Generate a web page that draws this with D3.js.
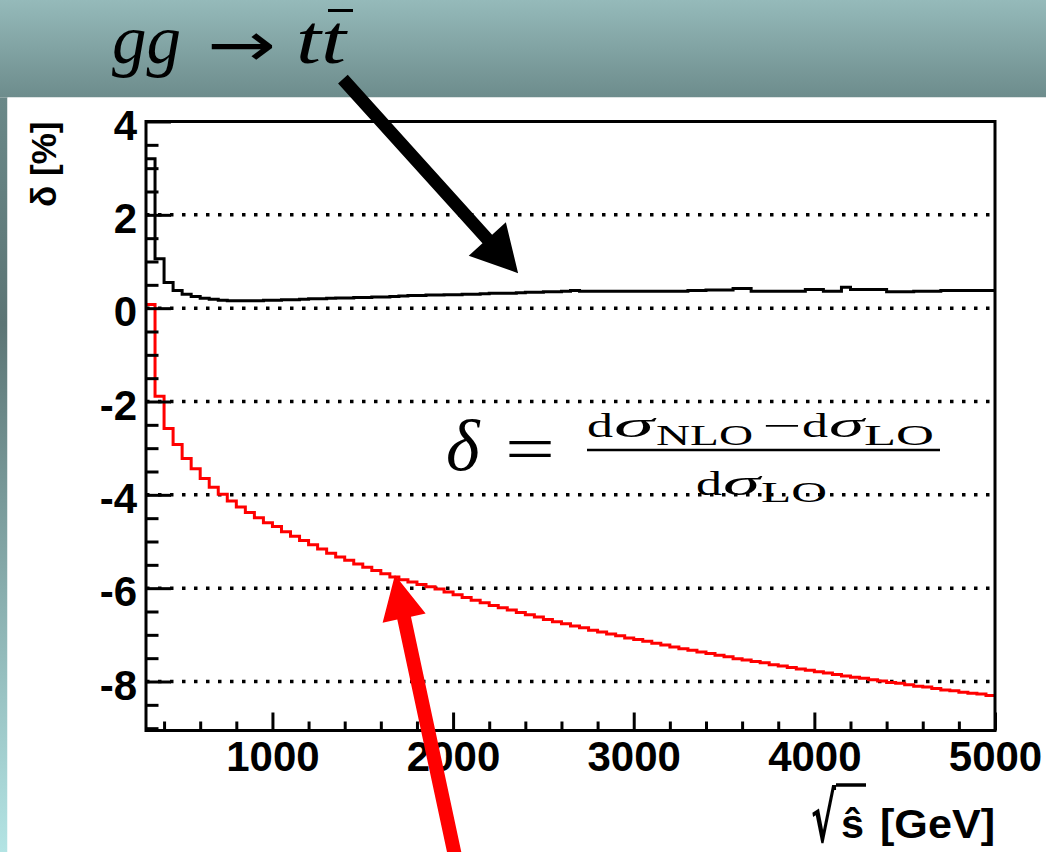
<!DOCTYPE html>
<html><head><meta charset="utf-8">
<script src="https://cdn.jsdelivr.net/npm/d3@7"></script>
<style>html,body{margin:0;padding:0;background:#fff;overflow:hidden}</style>
</head><body>
<script>
// ---------- data ----------
const binStart = 300, binStop = 5000, binWidth = 50;
// black histogram (gg -> tt̄), one value per 50 GeV bin from 300 GeV
const deltaGG = [
  3.20,1.06,0.55,0.38,0.30,0.25,0.21,0.19,0.17,0.16,
  0.16,0.16,0.16,0.17,0.17,0.18,0.18,0.19,0.20,0.20,
  0.21,0.22,0.22,0.23,0.23,0.24,0.24,0.25,0.26,0.27,
  0.27,0.28,0.28,0.29,0.29,0.30,0.30,0.31,0.32,0.32,
  0.32,0.33,0.34,0.34,0.35,0.35,0.36,0.38,0.36,0.36,
  0.36,0.36,0.36,0.36,0.36,0.36,0.36,0.36,0.36,0.36,
  0.38,0.38,0.39,0.39,0.39,0.42,0.42,0.36,0.36,0.36,
  0.36,0.36,0.36,0.40,0.40,0.36,0.36,0.45,0.40,0.40,
  0.40,0.40,0.35,0.35,0.35,0.36,0.36,0.36,0.38,0.38,
  0.38,0.38,0.38,0.38
];
// red histogram
const deltaRed = [
  0.08,-1.89,-2.58,-2.92,-3.22,-3.44,-3.65,-3.84,-3.99,-4.13,
  -4.26,-4.38,-4.49,-4.60,-4.68,-4.79,-4.89,-4.98,-5.07,-5.16,
  -5.25,-5.33,-5.40,-5.48,-5.55,-5.62,-5.69,-5.76,-5.82,-5.87,
  -5.92,-5.97,-6.02,-6.08,-6.14,-6.20,-6.26,-6.31,-6.37,-6.42,
  -6.47,-6.52,-6.57,-6.62,-6.67,-6.72,-6.76,-6.81,-6.85,-6.90,
  -6.94,-6.98,-7.02,-7.07,-7.10,-7.14,-7.18,-7.22,-7.26,-7.30,
  -7.33,-7.37,-7.40,-7.44,-7.47,-7.51,-7.54,-7.57,-7.60,-7.64,
  -7.67,-7.70,-7.73,-7.76,-7.79,-7.82,-7.85,-7.88,-7.91,-7.93,
  -7.96,-7.99,-8.02,-8.04,-8.07,-8.10,-8.12,-8.15,-8.18,-8.20,
  -8.23,-8.25,-8.27,-8.30
];
const yTickValues = [-8,-6,-4,-2,0,2,4];
const yGridValues = [-8,-6,-4,-2,0,2];
const xTickValues = [1000,2000,3000,4000,5000];
const xDomain = [300,5000];
const yDomain = [-9.05,4];
// annotation arrows in data coordinates [GeV, %]
const arrowBlack = {tail:[1390,4.91], tip:[2360,0.75]};
const arrowRed = {tail:[2025,-12.0], tip:[1678,-5.72]};

// ---------- layout ----------
const W=1046,H=852;
const L=146,R=995,T=121.5,B=730.5;
const svg = d3.select('body').append('svg').attr('width',W).attr('height',H);
const defs = svg.append('defs');
const gTop = defs.append('linearGradient').attr('id','gTop').attr('x1',0).attr('y1',0).attr('x2',0).attr('y2',1);
gTop.append('stop').attr('offset','0%').attr('stop-color','#95baba');
gTop.append('stop').attr('offset','100%').attr('stop-color','#6d8c8c');
const gLeft = defs.append('linearGradient').attr('id','gLeft').attr('x1',0).attr('y1',0).attr('x2',0).attr('y2',1);
gLeft.append('stop').attr('offset','0%').attr('stop-color','#6a8888');
gLeft.append('stop').attr('offset','30%').attr('stop-color','#5c7575');
gLeft.append('stop').attr('offset','100%').attr('stop-color','#b3e4e4');

svg.append('rect').attr('x',0).attr('y',0).attr('width',W).attr('height',97.5).attr('fill','url(#gTop)');
svg.append('rect').attr('x',0).attr('y',97.5).attr('width',7.5).attr('height',H-97.5).attr('fill','url(#gLeft)');
svg.append('rect').attr('x',7.5).attr('y',97.5).attr('width',W-7.5).attr('height',H-97.5).attr('fill','#fff');

const x = d3.scaleLinear().domain(xDomain).range([L,R]);
const y = d3.scaleLinear().domain(yDomain).range([B,T]);

// grid
svg.append('g').selectAll('line').data(yGridValues).join('line')
  .attr('x1',L).attr('x2',R).attr('y1',d=>y(d)).attr('y2',d=>y(d))
  .attr('stroke','#000').attr('stroke-width',3.5).attr('stroke-dasharray','3.5 8.5');

// histograms
function stepPoints(vals){
  const pts=[];
  vals.forEach((v,i)=>{const lo=binStart+i*binWidth, hi=lo+binWidth; pts.push([x(lo),y(v)],[x(hi),y(v)]);});
  return pts;
}
const line = d3.line();
svg.append('path').attr('d',line(stepPoints(deltaRed))).attr('fill','none').attr('stroke','#ff0000').attr('stroke-width',3);
svg.append('path').attr('d',line(stepPoints(deltaGG))).attr('fill','none').attr('stroke','#000').attr('stroke-width',3);

// axes
const fontTick = 'bold 42px "Liberation Sans", Arial, sans-serif';
const yAxis = d3.axisLeft(y).tickValues(yTickValues).tickSize(-25).tickSizeOuter(0).tickPadding(9).tickFormat(d=>String(d));
const gy = svg.append('g').attr('transform',`translate(${L},0)`).call(yAxis);
gy.selectAll('text').style('font',fontTick).attr('fill','#000').attr('dy','0.42em');
const yMinor = d3.range(-9,4.001,0.5).filter(v=>Math.abs(v%2)!==0);
const gy2 = svg.append('g').attr('transform',`translate(${L},0)`).call(d3.axisLeft(y).tickValues(yMinor).tickSize(-12.5).tickSizeOuter(0).tickFormat(''));
const xAxis = d3.axisBottom(x).tickValues(xTickValues).tickSize(-18).tickSizeOuter(0).tickPadding(11).tickFormat(d=>String(d));
const gx = svg.append('g').attr('transform',`translate(0,${B})`).call(xAxis);
gx.selectAll('text').style('font',fontTick).attr('fill','#000');
const xMinor = d3.range(400,5000,200).filter(v=>v%1000!==0);
const gx2 = svg.append('g').attr('transform',`translate(0,${B})`).call(d3.axisBottom(x).tickValues(xMinor).tickSize(-9).tickSizeOuter(0).tickFormat(''));
[gy,gy2,gx,gx2].forEach(g=>{g.selectAll('line').attr('stroke','#000').attr('stroke-width',3); g.select('.domain').remove();});

// frame
svg.append('rect').attr('x',L).attr('y',T).attr('width',R-L).attr('height',B-T).attr('fill','none').attr('stroke','#000').attr('stroke-width',3);

// axis titles
svg.append('text').attr('transform',`translate(56,${T}) rotate(-90)`).attr('text-anchor','end')
  .style('font','bold 35px "Liberation Sans", Arial, sans-serif').text('δ [%]');
svg.append('text').attr('x',811).attr('y',842)
  .style('font','bold 68px "DejaVu Sans", sans-serif').attr('textLength',25).attr('lengthAdjust','spacingAndGlyphs').text('√');
svg.append('text').attr('x',841).attr('y',838).style('font','bold 40px "Liberation Sans", Arial, sans-serif')
  .attr('textLength',23).attr('lengthAdjust','spacingAndGlyphs').text('ŝ');
svg.append('text').attr('x',880).attr('y',838).style('font','bold 40px "Liberation Sans", Arial, sans-serif')
  .attr('textLength',115).attr('lengthAdjust','spacingAndGlyphs').text('[GeV]');
svg.append('line').attr('x1',836).attr('x2',866).attr('y1',785).attr('y2',785).attr('stroke','#000').attr('stroke-width',3.5);

// title
const serif = '"Liberation Serif", "Times New Roman", serif';
svg.append('text').attr('x',112).attr('y',63).style('font',`italic 69px ${serif}`).text('gg');
svg.append('text').attr('transform','translate(207,66) scale(1.33,1)').style('font','62px "DejaVu Sans", sans-serif').text('→');
svg.append('text').attr('x',296).attr('y',63).attr('textLength',50).attr('lengthAdjust','spacingAndGlyphs').style('font',`italic 69px ${serif}`).text('tt');
svg.append('line').attr('x1',328).attr('x2',353).attr('y1',10.5).attr('y2',10.5).attr('stroke','#000').attr('stroke-width',3);

// formula
function t(xp,yp,str,font,len){const e=svg.append('text').attr('x',xp).attr('y',yp).style('font',font).text(str); if(len){e.attr('textLength',len).attr('lengthAdjust','spacingAndGlyphs');} return e;}
t(446,470,'δ',`italic 72px ${serif}`);
t(505,470,'=',`64px ${serif}`,50);
const fm = `34px ${serif}`, fmi = `italic 36px ${serif}`, fs = `30px ${serif}`;
t(587,437,'d',fm,26); t(614,437,'σ',fmi,40); t(656,445,'NLO',fs,97);
t(762,437,'−',fm,39);
t(802,437,'d',fm,26); t(829,437,'σ',fmi,35); t(864,445,'LO',fs,70);
svg.append('line').attr('x1',587).attr('x2',940).attr('y1',450).attr('y2',450).attr('stroke','#000').attr('stroke-width',2.5);
t(696,495,'d',fm,26); t(723,495,'σ',fmi,37); t(761,502,'LO',fs,66);

// arrows
function arrow(a,color,w,hl,hw){
  const S=[x(a.tail[0]),y(a.tail[1])], Tp=[x(a.tip[0]),y(a.tip[1])];
  const dx=Tp[0]-S[0], dy=Tp[1]-S[1], len=Math.hypot(dx,dy);
  const u=[dx/len,dy/len], n=[-u[1],u[0]];
  const Bc=[Tp[0]-u[0]*hl, Tp[1]-u[1]*hl];
  const p=(P,k)=>[P[0]+n[0]*k,P[1]+n[1]*k];
  const pts=[p(S,w/2),p(Bc,w/2),p(Bc,hw),Tp,p(Bc,-hw),p(Bc,-w/2),p(S,-w/2)];
  svg.append('polygon').attr('points',pts.map(q=>q.join(',')).join(' ')).attr('fill',color);
}
arrow(arrowBlack,'#000',13,46,25);
arrow(arrowRed,'#ff0000',14,44,22);
</script>
</body></html>
